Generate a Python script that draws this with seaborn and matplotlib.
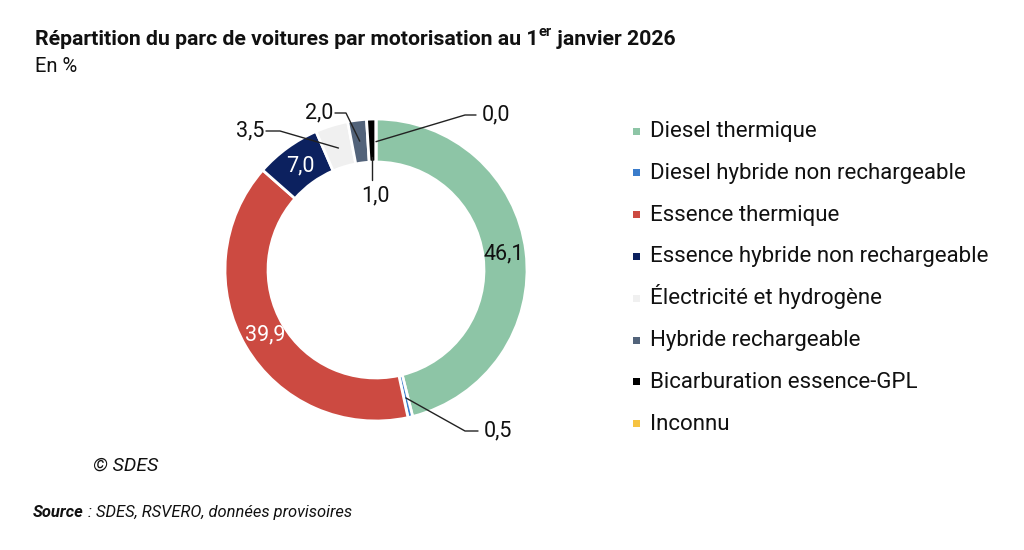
import matplotlib
matplotlib.use("Agg")
import matplotlib.pyplot as plt
import seaborn as sns
import numpy as np
from matplotlib.patches import Rectangle
from matplotlib.lines import Line2D

# ---- data ----
categories = [
    "Diesel thermique",
    "Diesel hybride non rechargeable",
    "Essence thermique",
    "Essence hybride non rechargeable",
    "Électricité et hydrogène",
    "Hybride rechargeable",
    "Bicarburation essence-GPL",
    "Inconnu",
]
values = [46.1, 0.5, 39.9, 7.0, 3.5, 2.0, 1.0, 0.0]
colors = ["#8DC5A6", "#3A7CCB", "#CC4A41", "#0C215F", "#F0F0F0", "#52637A", "#000000", "#F6C342"]
value_labels = ["46,1", "0,5", "39,9", "7,0", "3,5", "2,0", "1,0", "0,0"]

title_main = "Répartition du parc de voitures par motorisation au 1"
title_sup = "er"
title_end = " janvier 2026"
subtitle = "En %"
credit = "© SDES"
source_bold = "Source"
source_rest = " : SDES, RSVERO, données provisoires"

sns.set_theme(style="white")
plt.rcParams["font.family"] = ["Roboto", "DejaVu Sans"]

W, H = 1024, 550
fig = plt.figure(figsize=(W / 100, H / 100), dpi=100)
fig.patch.set_facecolor("white")

cx, cy, R = 376, 270, 151
ax = fig.add_axes([(cx - R) / W, (H - cy - R) / H, 2 * R / W, 2 * R / H])

ring = 0.285
wedges, _ = ax.pie(values, colors=colors, startangle=90, counterclock=False, radius=1.0,
                   wedgeprops=dict(width=ring, edgecolor="white", linewidth=2))
ax.set_xlim(-1, 1)
ax.set_ylim(-1, 1)
ax.set_aspect("equal")
ax.axis("off")

total = sum(values)
cum = np.concatenate([[0], np.cumsum(values)])
mid_angles = [np.deg2rad(90 - 360 * (cum[i] + values[i] / 2) / total) for i in range(len(values))]

def pol(i, r):
    a = mid_angles[i]
    return r * np.cos(a), r * np.sin(a)

def px2d(px, py):
    return (px - cx) / R, (cy - py) / R

fs_lab = 15.5
TXT = "#111111"
# inside labels
for i, col in [(0, TXT), (2, "white"), (3, "white")]:
    x, y = pol(i, 0.85)
    ax.text(x, y, value_labels[i], ha="center", va="center", fontsize=fs_lab, color=col)

def leader(points):
    xs, ys = zip(*points)
    ax.add_line(Line2D(xs, ys, color="#222222", lw=1.0, clip_on=False))

# 3,5
a = pol(4, 0.845)
e = px2d(280, 131); t = px2d(266, 131)
leader([a, e, t])
ax.text(t[0] - 0.01, t[1], value_labels[4], ha="right", va="center", fontsize=fs_lab, color=TXT)
# 2,0
a = pol(5, 0.86)
e = px2d(346, 113); t = px2d(335, 113)
leader([a, e, t])
ax.text(t[0] - 0.01, t[1], value_labels[5], ha="right", va="center", fontsize=fs_lab, color=TXT)
# 0,0
a = pol(7, 0.85)
e = px2d(465, 115); t = px2d(476, 115)
leader([a, e, t])
ax.text(t[0] + 0.04, t[1], value_labels[7], ha="left", va="center", fontsize=fs_lab, color=TXT)
# 1,0
a = pol(6, 0.75)
b = (a[0], px2d(0, 180)[1])
leader([a, b])
ax.text(a[0] + 0.02, px2d(0, 196)[1], value_labels[6], ha="center", va="center", fontsize=fs_lab, color=TXT)
# 0,5
a = pol(1, 0.87)
e = px2d(465, 431); t = px2d(478, 431)
leader([a, e, t])
ax.text(t[0] + 0.04, t[1], value_labels[1], ha="left", va="center", fontsize=fs_lab, color=TXT)

# legend (manual, evenly spaced rows)
leg_x_box, leg_x_txt, leg_y0, leg_dy, box = 633, 650, 131, 41.8, 7
for k, (lab, c) in enumerate(zip(categories, colors)):
    yc = leg_y0 + k * leg_dy
    fig.patches.append(Rectangle((leg_x_box / W, (H - yc - box / 2) / H), box / W, box / H,
                                 transform=fig.transFigure, facecolor=c, edgecolor="none"))
    fig.text(leg_x_txt / W, (H - yc - 6) / H, lab, fontsize=16, color=TXT, va="baseline")

# title with superscript
fig.canvas.draw()
r = fig.canvas.get_renderer()
ty = 1 - 45 / H
t1 = fig.text(35 / W, ty, title_main, fontsize=15.3, fontweight="bold", color=TXT, va="baseline")
bb = t1.get_window_extent(r)
t2 = fig.text(bb.x1 / W, ty + 9 / H, title_sup, fontsize=10.5, fontweight="bold", color=TXT, va="baseline")
bb2 = t2.get_window_extent(r)
fig.text(bb2.x1 / W, ty, title_end, fontsize=15.3, fontweight="bold", color=TXT, va="baseline")
fig.text(35 / W, 1 - 72 / H, subtitle, fontsize=14.5, color=TXT, va="baseline")

fig.text(93 / W, 1 - 471 / H, credit, fontsize=14, style="italic", color=TXT, va="baseline")
s1 = fig.text(33 / W, 1 - 517 / H, source_bold, fontsize=11.9, style="italic", fontweight="bold",
              color=TXT, va="baseline")
bb3 = s1.get_window_extent(r)
fig.text(bb3.x1 / W, 1 - 517 / H, source_rest, fontsize=11.9, style="italic", color=TXT, va="baseline")

fig.savefig("out.png", dpi=100, facecolor="white")
